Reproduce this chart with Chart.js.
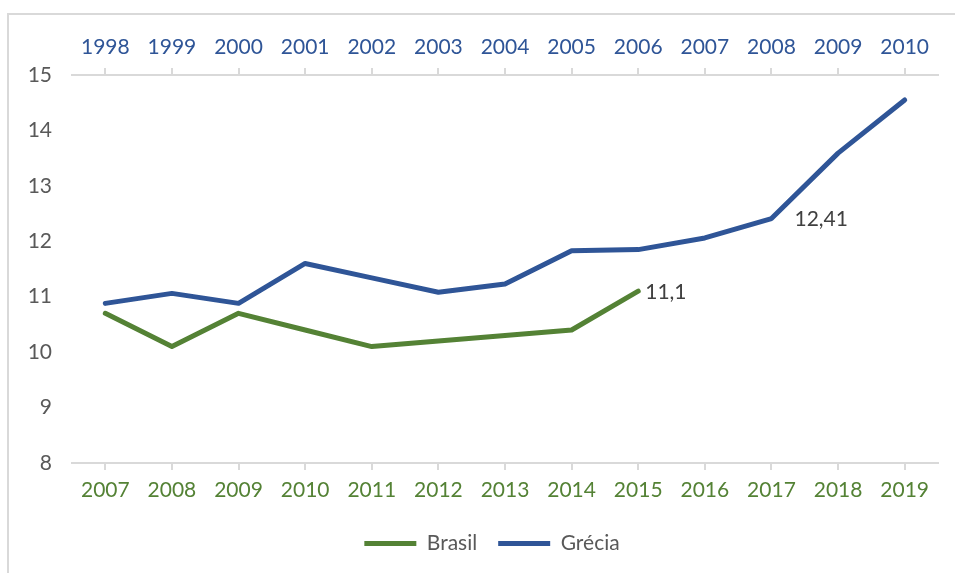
<!DOCTYPE html>
<html>
<head>
<meta charset="utf-8">
<script src="https://cdn.jsdelivr.net/npm/chart.js@4.4.0/dist/chart.umd.min.js"></script>
<style>
  html, body { margin: 0; padding: 0; background: #fff; }
</style>
</head>
<body>
<canvas id="chart" width="955" height="573"></canvas>
<script>
// Brasil plotted on the bottom axis, Grécia on the top axis
var brasilYears = ['2007', '2008', '2009', '2010', '2011', '2012', '2013', '2014', '2015', '2016', '2017', '2018', '2019'];
var greciaYears = ['1998', '1999', '2000', '2001', '2002', '2003', '2004', '2005', '2006', '2007', '2008', '2009', '2010'];
var brasilValues = [10.7, 10.1, 10.7, 10.4, 10.1, 10.2, 10.3, 10.4, 11.1, null, null, null, null];
var greciaValues = [10.88, 11.06, 10.88, 11.6, 11.34, 11.08, 11.23, 11.83, 11.85, 12.06, 12.41, 13.59, 14.55];
var yMin = 8;
var yMax = 15;
var brasilLabelAt = [8];
var greciaLabelAt = [10];

var FONT = 'Lato';
var GREEN = '#548235';
var BLUE = '#2F5597';
var AXIS_GRAY = '#d9d9d9';

function fmt(v) {
    return String(v).replace('.', ',');
}

// frame lines like the Excel chart area
var framePlugin = {
    id: 'frame',
    beforeDraw: function (chart) {
        var ctx = chart.ctx;
        ctx.save();
        ctx.strokeStyle = AXIS_GRAY;
        ctx.lineWidth = 2;
        ctx.beginPath();
        ctx.moveTo(8, chart.height);
        ctx.lineTo(8, 14);
        ctx.lineTo(chart.width, 14);
        ctx.stroke();
        ctx.restore();
    },
    // legend sits a bit right of the canvas centre in the original
    afterLayout: function (chart) {
        if (chart.legend) {
            chart.legend.left += 23;
            chart.legend.right += 23;
        }
    }
};

// value labels to the right of selected points
var valueLabels = {
    id: 'valueLabels',
    afterDatasetsDraw: function (chart) {
        var ctx = chart.ctx;
        var picks = [brasilLabelAt, greciaLabelAt];
        var dx = [7, 23];
        ctx.save();
        ctx.font = '21px ' + FONT;
        ctx.fillStyle = '#404040';
        ctx.textBaseline = 'middle';
        ctx.textAlign = 'left';
        chart.data.datasets.forEach(function (ds, i) {
            var meta = chart.getDatasetMeta(i);
            picks[i].forEach(function (idx) {
                var pt = meta.data[idx];
                ctx.fillText(fmt(ds.data[idx]), pt.x + dx[i], pt.y + 1);
            });
        });
        ctx.restore();
    }
};

function xAxis(position, labels, color) {
    return {
        type: 'category',
        position: position,
        labels: labels,
        offset: true,
        grid: {
            drawOnChartArea: false,
            drawTicks: true,
            tickLength: 7,
            color: AXIS_GRAY,
            lineWidth: 2
        },
        border: { display: true, color: AXIS_GRAY, width: 2 },
        ticks: {
            color: color,
            font: { family: FONT, size: 21 },
            padding: 8,
            maxRotation: 0,
            autoSkip: false
        },
        afterFit: function (scale) {
            scale.height = position === 'top' ? 75 : 49;
        }
    };
}

var ctx = document.getElementById('chart').getContext('2d');
new Chart(ctx, {
    type: 'line',
    data: {
        labels: brasilYears,
        datasets: [{
            label: 'Brasil',
            data: brasilValues,
            xAxisID: 'x',
            yAxisID: 'y',
            borderColor: GREEN,
            backgroundColor: GREEN,
            borderWidth: 5,
            borderCapStyle: 'round',
            borderJoinStyle: 'round',
            pointRadius: 0,
            tension: 0
        }, {
            label: 'Grécia',
            data: greciaValues,
            xAxisID: 'x2',
            yAxisID: 'y',
            borderColor: BLUE,
            backgroundColor: BLUE,
            borderWidth: 5,
            borderCapStyle: 'round',
            borderJoinStyle: 'round',
            pointRadius: 0,
            tension: 0
        }]
    },
    options: {
        responsive: false,
        devicePixelRatio: 1,
        animation: false,
        layout: { padding: { left: 0, right: 17, top: 0, bottom: 9 } },
        plugins: {
            legend: {
                position: 'bottom',
                labels: {
                    usePointStyle: true,
                    pointStyle: 'line',
                    pointStyleWidth: 52,
                    boxHeight: 20,
                    color: '#595959',
                    font: { family: FONT, size: 21 },
                    padding: 21
                }
            },
            tooltip: { enabled: false }
        },
        scales: {
            x: xAxis('bottom', brasilYears, GREEN),
            x2: xAxis('top', greciaYears, BLUE),
            y: {
                min: yMin,
                max: yMax,
                grid: { display: false, drawTicks: false },
                border: { display: false },
                ticks: {
                    stepSize: 1,
                    color: '#595959',
                    font: { family: FONT, size: 21 },
                    padding: 20
                },
                afterFit: function (scale) {
                    scale.width = 72;
                }
            }
        }
    },
    plugins: [framePlugin, valueLabels]
});
</script>
</body>
</html>
